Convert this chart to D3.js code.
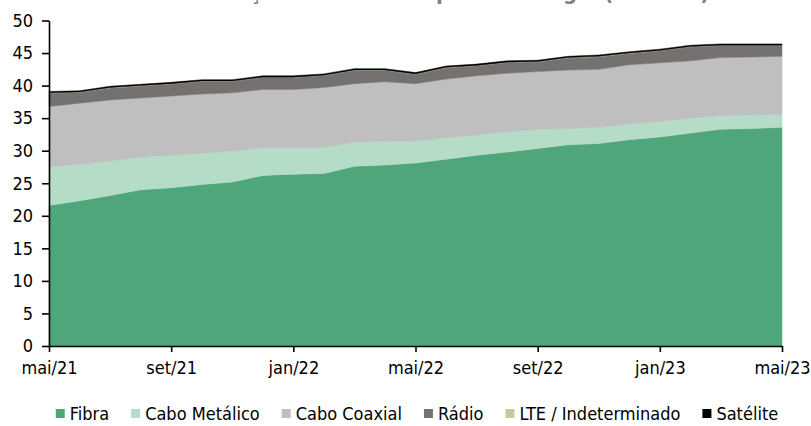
<!DOCTYPE html>
<html>
<head>
<meta charset="utf-8">
<script src="https://cdn.jsdelivr.net/npm/d3@7"></script>
<style>
    body { margin: 0; background: #fff; }
    text { font-family: "DejaVu Sans Condensed", "Liberation Sans Narrow", sans-serif; }
</style>
</head>
<body>
<script>
// months (mai/21 .. mai/23)
var months = ["mai/21", "jun/21", "jul/21", "ago/21", "set/21", "out/21", "nov/21", "dez/21",
    "jan/22", "fev/22", "mar/22", "abr/22", "mai/22", "jun/22", "jul/22", "ago/22",
    "set/22", "out/22", "nov/22", "dez/22", "jan/23", "fev/23", "mar/23", "abr/23", "mai/23"];
var tickLabels = ["mai/21", "set/21", "jan/22", "mai/22", "set/22", "jan/23", "mai/23"];
var yTicks = [0, 5, 10, 15, 20, 25, 30, 35, 40, 45, 50];

// acessos em milhões
var fibra = [21.6, 22.3, 23.1, 24.0, 24.3, 24.8, 25.2, 26.2, 26.4, 26.5, 27.6, 27.8, 28.1,
    28.7, 29.3, 29.8, 30.35, 30.9, 31.1, 31.7, 32.1, 32.7, 33.3, 33.4, 33.6];
var caboMetalico = [5.9, 5.6, 5.3, 5.0, 5.0, 4.8, 4.7, 4.3, 4.1, 4.0, 3.7, 3.6, 3.4,
    3.3, 3.1, 3.1, 2.9, 2.5, 2.5, 2.4, 2.4, 2.3, 2.1, 2.1, 2.0];
var caboCoaxial = [9.3, 9.4, 9.4, 9.1, 9.1, 9.1, 9.0, 8.9, 8.9, 9.2, 9.0, 9.2, 8.8,
    9.0, 9.1, 9.0, 8.9, 9.0, 8.9, 9.1, 9.0, 8.8, 8.9, 8.9, 8.9];
var radio = [2.05, 1.65, 1.85, 1.85, 1.85, 1.95, 1.75, 1.85, 1.85, 1.85, 2.05, 1.75, 1.45,
    1.75, 1.55, 1.65, 1.5, 1.85, 1.95, 1.75, 1.85, 2.15, 1.85, 1.75, 1.65];
var lte = [0.05, 0.05, 0.05, 0.05, 0.05, 0.05, 0.05, 0.05, 0.05, 0.05, 0.05, 0.05, 0.05,
    0.05, 0.05, 0.05, 0.05, 0.05, 0.05, 0.05, 0.05, 0.05, 0.05, 0.05, 0.05];
var satelite = [0.2, 0.2, 0.2, 0.2, 0.2, 0.2, 0.2, 0.2, 0.2, 0.2, 0.2, 0.2, 0.2,
    0.2, 0.2, 0.2, 0.2, 0.2, 0.2, 0.2, 0.2, 0.2, 0.2, 0.2, 0.2];

var seriesNames = ["Fibra", "Cabo Metálico", "Cabo Coaxial", "Rádio", "LTE / Indeterminado", "Satélite"];
var seriesValues = [fibra, caboMetalico, caboCoaxial, radio, lte, satelite];
var colors = ["#4fa67a", "#b5dcc6", "#bfbfbf", "#767171", "#c4c9a0", "#000000"];

var width = 811, height = 426;

var svg = d3.select("body").append("svg")
    .attr("width", width)
    .attr("height", height);

// title (cut by the top of the picture, as in the original)
svg.append("text")
    .attr("x", 449)
    .attr("y", 0)
    .attr("text-anchor", "middle")
    .style("font-size", "22px")
    .style("font-weight", "bold")
    .style("fill", "#7f7f7f")
    .text("Evolução dos acessos por tecnologia (milhões)");

var x = d3.scalePoint()
    .domain(months)
    .range([49, 782]);

var y = d3.scaleLinear()
    .domain([0, 50])
    .range([346, 20.5]);

var table = months.map(function (m, i) {
    var row = {month: m};
    seriesNames.forEach(function (s, k) {
        row[s] = seriesValues[k][i];
    });
    return row;
});

var stacked = d3.stack().keys(seriesNames)(table);

var area = d3.area()
    .x(function (d) { return x(d.data.month); })
    .y0(function (d) { return y(d[0]); })
    .y1(function (d) { return y(d[1]); });

svg.append("g").selectAll("path")
    .data(stacked)
    .enter().append("path")
    .attr("d", area)
    .style("fill", function (d, i) { return colors[i]; })
    .style("stroke", function (d, i) { return colors[i]; })
    .style("stroke-width", 0.5);

// axes
var yAxis = svg.append("g")
    .attr("transform", "translate(49,0)")
    .call(d3.axisLeft(y).tickValues(yTicks).tickSize(7).tickSizeOuter(0).tickPadding(9));

var xAxis = svg.append("g")
    .attr("transform", "translate(0,346)")
    .call(d3.axisBottom(x).tickValues(tickLabels).tickSize(6).tickSizeOuter(0).tickPadding(9));

[yAxis, xAxis].forEach(function (a) {
    a.selectAll("path, line").style("stroke", "#000").style("stroke-width", 1.6);
    a.selectAll("text")
        .style("font-size", "18px")
        .style("fill", "#000")
        .style("font-family", "'DejaVu Sans Condensed', 'Liberation Sans Narrow', sans-serif");
});

// legend, centred below the plot
var legend = svg.append("g");
var pos = 0;
seriesNames.forEach(function (s, i) {
    var item = legend.append("g").attr("transform", "translate(" + pos + ",0)");
    item.append("rect")
        .attr("x", 0)
        .attr("y", -5)
        .attr("width", 9)
        .attr("height", 9)
        .style("fill", colors[i]);
    var t = item.append("text")
        .attr("x", 14)
        .attr("y", 6)
        .style("font-size", "18px")
        .style("fill", "#000")
        .text(s);
    pos += 14 + t.node().getComputedTextLength() + 22;
});
pos -= 22;
legend.attr("transform", "translate(" + (417 - pos / 2) + ",414)");
</script>
</body>
</html>
